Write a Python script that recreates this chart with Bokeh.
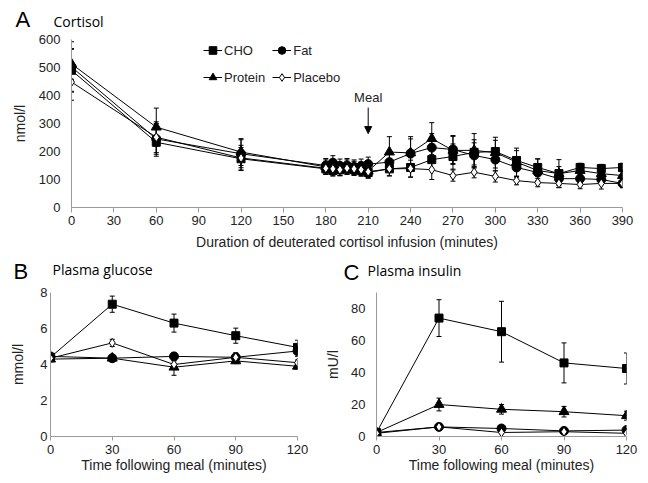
from bokeh.plotting import figure
from bokeh.models import (Range1d, FixedTicker, Legend, LegendItem, Label, Arrow,
                          NormalHead, Whisker, TeeHead, ColumnDataSource)
from bokeh.layouts import column, row
from bokeh.embed import file_html
from bokeh.resources import INLINE

# ---------------- data ----------------
series_names = ["CHO", "Fat", "Protein", "Placebo"]

# Panel A: cortisol (nmol/l)
t_a = [0, 60, 120, 180, 185, 190, 195, 200, 205, 210, 225, 240, 255, 270,
       285, 300, 315, 330, 345, 360, 375, 390]
cho_a = [490, 233, 174, 138, 132, 135, 138, 135, 132, 125, 138, 143, 171, 182,
         197, 200, 168, 143, 121, 143, 139, 143]
fat_a = [502, 245, 192, 150, 160, 148, 150, 145, 148, 155, 162, 193, 214, 207,
         186, 171, 143, 125, 103, 103, 100, 86]
pro_a = [513, 287, 198, 145, 140, 138, 145, 140, 138, 130, 198, 195, 246, 204,
         204, 196, 162, 132, 121, 132, 121, 114]
pla_a = [448, 251, 177, 140, 138, 135, 140, 138, 135, 128, 138, 139, 135, 114,
         126, 111, 96, 89, 86, 82, 86, 86]
cho_a_err = [75, 50, 40, 20, 20, 20, 20, 20, 20, 20, 25, 35, 35, 45, 45, 40,
             35, 30, 25, 15, 15, 15]
fat_a_err = [90, 55, 50, 25, 25, 25, 25, 25, 25, 25, 30, 60, 50, 50, 45, 40,
             35, 30, 25, 15, 15, 15]
pro_a_err = [55, 68, 48, 25, 25, 25, 25, 25, 25, 25, 55, 50, 57, 50, 60, 55,
             50, 42, 50, 25, 20, 20]
pla_a_err = [65, 55, 45, 20, 20, 20, 20, 20, 20, 20, 25, 30, 35, 20, 20, 20,
             15, 15, 15, 15, 20, 15]
meal_time = 210
a_ticks = [0, 30, 60, 90, 120, 150, 180, 210, 240, 270, 300, 330, 360, 390]
a_yticks = [0, 100, 200, 300, 400, 500, 600]

# Panels B and C: time after meal
t_meal = [0, 30, 60, 90, 120]
# Panel B: glucose (mmol/l)
cho_g = [4.4, 7.35, 6.3, 5.6, 4.95]
fat_g = [4.45, 4.35, 4.45, 4.4, 4.75]
pro_g = [4.3, 4.35, 3.85, 4.2, 3.9]
pla_g = [4.35, 5.2, 4.0, 4.4, 4.1]
cho_g_err = [0.15, 0.45, 0.5, 0.42, 0.4]
fat_g_err = [0.15, 0.1, 0.2, 0.25, 0.3]
pro_g_err = [0.15, 0.1, 0.45, 0.15, 0.15]
pla_g_err = [0.15, 0.2, 0.2, 0.2, 0.15]
b_yticks = [0, 2, 4, 6, 8]

# Panel C: insulin (mU/l)
cho_i = [2.5, 74, 65.5, 46, 42.5]
fat_i = [2.5, 6, 5, 3.5, 4]
pro_i = [2.5, 20, 17, 15.5, 13]
pla_i = [2, 6, 2.5, 3, 2]
cho_i_err = [1, 11.5, 19, 12.5, 9.7]
fat_i_err = [0.5, 1, 1, 1, 1]
pro_i_err = [0.5, 4, 3, 3.3, 2.8]
pla_i_err = [0.5, 1, 0.5, 0.5, 0.5]
c_yticks = [0, 20, 40, 60, 80]
meal_ticks = [0, 30, 60, 90, 120]

# ---------------- styles ----------------
MARK = {"CHO": ("square", "black", 8),
        "Fat": ("circle", "black", 9),
        "Protein": ("triangle", "black", 10),
        "Placebo": ("diamond", "white", 9)}
AX = "#9a9a9a"
TXT = "#222222"
SANS = "Liberation Sans"
TITLE_FONT = "Open Sans"


def no_align(p):
    if "frame_align" in p.properties():
        p.frame_align = False


def make_fig(w, h, xr, yr, lb, rb, tb, bb):
    p = figure(width=w, height=h, x_range=Range1d(*xr), y_range=Range1d(*yr),
               output_backend="svg", toolbar_location=None,
               min_border_left=lb, min_border_right=rb,
               min_border_top=tb, min_border_bottom=bb)
    p.title.visible = False
    p.outline_line_color = None
    p.xgrid.visible = False
    p.ygrid.visible = False
    p.background_fill_color = "white"
    p.border_fill_color = "white"
    no_align(p)
    return p


def title_strip(w, h, items):
    """A bare strip (no axes) whose frame is the whole canvas, in pixel units."""
    p = figure(width=w, height=h, x_range=Range1d(0, w), y_range=Range1d(0, h),
               output_backend="svg", toolbar_location=None,
               x_axis_location=None, y_axis_location=None, min_border=0)
    p.title.visible = False
    p.outline_line_color = None
    p.xgrid.visible = False
    p.ygrid.visible = False
    no_align(p)
    for text, x, baseline_from_top, font, size in items:
        p.add_layout(Label(x=x, y=h - baseline_from_top, text=text,
                           text_font=font, text_font_size=size,
                           text_color="black", text_baseline="alphabetic"))
    return p


def style_axes(p, xticks, yticks, xlabel, ylabel, y_standoff, ylab_standoff,
               x_standoff, xlab_standoff, tick_out=5):
    xa, ya = p.xaxis[0], p.yaxis[0]
    xa.ticker = FixedTicker(ticks=xticks)
    ya.ticker = FixedTicker(ticks=yticks)
    for ax in (xa, ya):
        ax.axis_line_color = AX
        ax.axis_line_width = 1
        ax.minor_tick_line_color = None
        ax.major_label_text_font = SANS
        ax.major_label_text_font_size = "13px"
        ax.major_label_text_color = TXT
        ax.axis_label_text_font = SANS
        ax.axis_label_text_font_size = "14px"
        ax.axis_label_text_font_style = "normal"
        ax.axis_label_text_color = TXT
    xa.major_tick_line_color = AX
    xa.major_tick_out = tick_out
    xa.major_tick_in = 0
    ya.major_tick_line_color = None
    ya.major_tick_out = 0
    ya.major_tick_in = 0
    xa.axis_label = xlabel
    ya.axis_label = ylabel
    xa.major_label_standoff = x_standoff
    xa.axis_label_standoff = xlab_standoff
    ya.major_label_standoff = y_standoff
    ya.axis_label_standoff = ylab_standoff


def add_series(p, x, y, err, name):
    marker, fill, size = MARK[name]
    up = [v + e for v, e in zip(y, err)]
    lo = [v - e for v, e in zip(y, err)]
    src = ColumnDataSource(dict(x=x, y=y, up=up, lo=lo))
    w = Whisker(source=src, base="x", upper="up", lower="lo",
                line_color="black", line_width=1,
                upper_head=TeeHead(size=5, line_color="black", line_width=1),
                lower_head=TeeHead(size=5, line_color="black", line_width=1))
    p.add_layout(w)
    ln = p.line("x", "y", source=src, line_color="black", line_width=1)
    sc = p.scatter("x", "y", source=src, marker=marker, size=size,
                   fill_color=fill, line_color="black", line_width=1)
    return ln, sc


# ---------------- Panel A ----------------
tA = title_strip(640, 31, [("A", 15, 19, SANS, "22px"),
                           ("Cortisol", 53, 21, TITLE_FONT, "14px")])

pA = make_fig(640, 227, (0, 390), (0, 600), 71, 18, 8, 51)
style_axes(pA, a_ticks, a_yticks,
           "Duration of deuterated cortisol infusion (minutes)", "nmol/l",
           y_standoff=11, ylab_standoff=8, x_standoff=3, xlab_standoff=6)
rend = {}
for name, y, e in zip(series_names, [cho_a, fat_a, pro_a, pla_a],
                      [cho_a_err, fat_a_err, pro_a_err, pla_a_err]):
    rend[name] = add_series(pA, t_a, y, e, name)

legend = Legend(items=[LegendItem(label=n, renderers=list(rend[n])) for n in series_names],
                orientation="horizontal", ncols=2, location=(132, 120),
                glyph_width=19, glyph_height=20, label_height=20,
                label_standoff=2, spacing=7, padding=0, margin=0,
                label_text_font=SANS, label_text_font_size="13px",
                label_text_color=TXT, border_line_alpha=0,
                background_fill_alpha=0)
pA.add_layout(legend)

pA.add_layout(Label(x=meal_time, y=393, text="Meal", text_font=SANS,
                    text_font_size="13px", text_color=TXT,
                    text_align="center", text_baseline="middle"))
pA.add_layout(Arrow(x_start=meal_time, y_start=357, x_end=meal_time, y_end=264,
                    line_color="black", line_width=1,
                    end=NormalHead(size=7, fill_color="black", line_color="black")))

# ---------------- Panel B ----------------
tB = title_strip(318, 26, [("B", 13, 13, SANS, "22px"),
                           ("Plasma glucose", 52, 11, TITLE_FONT, "14px")])
pB = make_fig(318, 191, (0, 120), (0, 8), 50, 21, 8, 37)
style_axes(pB, meal_ticks, b_yticks, "Time following meal (minutes)", "mmol/l",
           y_standoff=3, ylab_standoff=11, x_standoff=4, xlab_standoff=0, tick_out=4)
for name, y, e in zip(series_names, [cho_g, fat_g, pro_g, pla_g],
                      [cho_g_err, fat_g_err, pro_g_err, pla_g_err]):
    add_series(pB, t_meal, y, e, name)

# ---------------- Panel C ----------------
tC = title_strip(322, 26, [("C", 25, 14, SANS, "22px"),
                           ("Plasma insulin", 49, 12, TITLE_FONT, "14px")])
pC = make_fig(322, 191, (0, 120), (0, 90), 58, 14, 8, 37)
style_axes(pC, meal_ticks, c_yticks, "Time following meal (minutes)", "mU/l",
           y_standoff=11, ylab_standoff=7, x_standoff=4, xlab_standoff=0, tick_out=4)
for name, y, e in zip(series_names, [cho_i, fat_i, pro_i, pla_i],
                      [cho_i_err, fat_i_err, pro_i_err, pla_i_err]):
    add_series(pC, t_meal, y, e, name)

layout = column(tA, pA, row(tB, tC), row(pB, pC))
open("out.html", "w").write(file_html(layout, INLINE))
